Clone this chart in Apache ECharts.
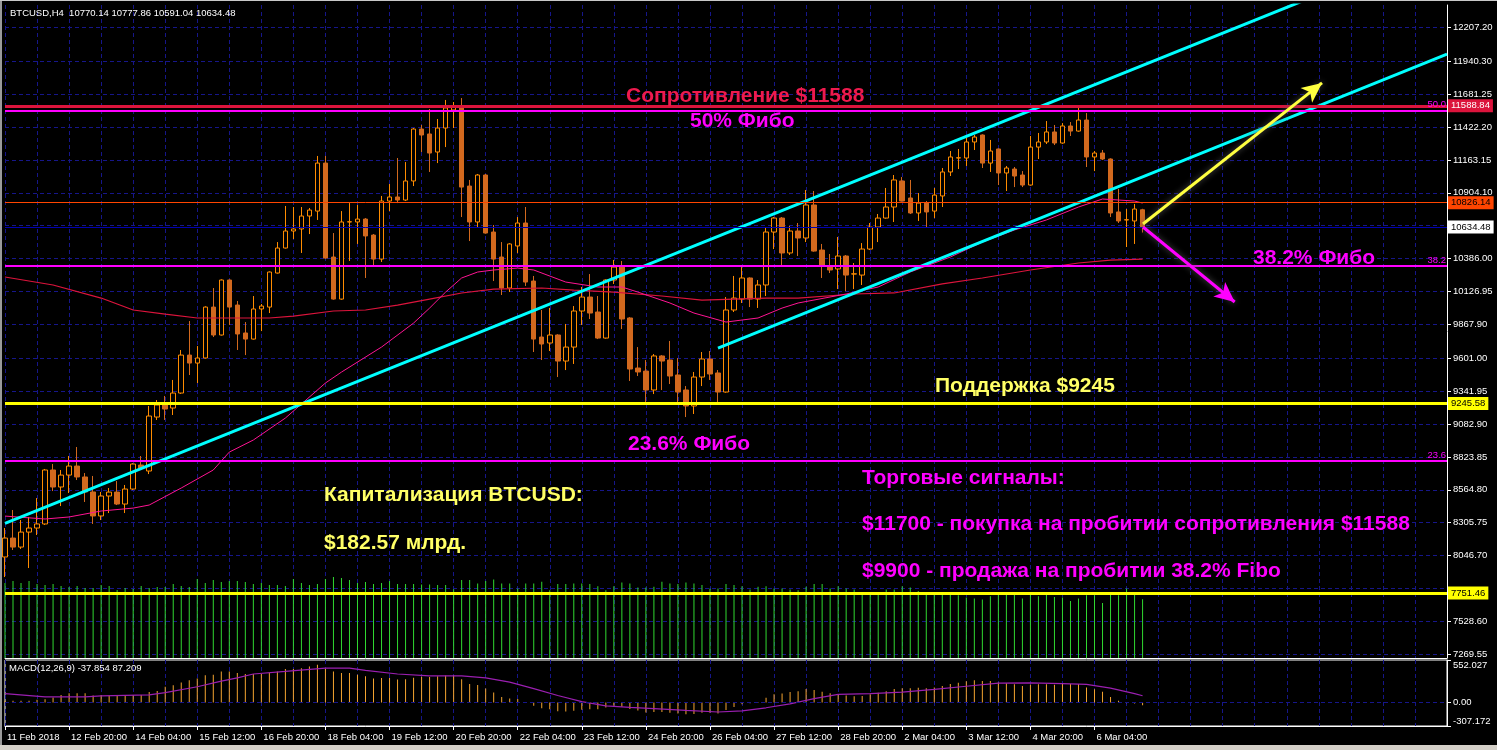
<!DOCTYPE html>
<html><head><meta charset="utf-8">
<script src="https://cdn.jsdelivr.net/npm/echarts@6/dist/echarts.min.js"></script>
<style>html,body{margin:0;padding:0;background:#d4d0c8;}#c{position:absolute;left:0;top:0;width:1497px;height:745px;}</style>
</head><body><div id="c"></div><script>
// ---- data (BTCUSD H4) ----
const symbolName = 'BTCUSD,H4';
const xTickLabels = ['11 Feb 2018','12 Feb 20:00','14 Feb 04:00','15 Feb 12:00','16 Feb 20:00','18 Feb 04:00','19 Feb 12:00','20 Feb 20:00','22 Feb 04:00','23 Feb 12:00','24 Feb 20:00','26 Feb 04:00','27 Feb 12:00','28 Feb 20:00','2 Mar 04:00','3 Mar 12:00','4 Mar 20:00','6 Mar 04:00'];
const priceTicks = [12207.20,11940.30,11681.25,11422.20,11163.15,10904.10,10645.05,10386.00,10126.95,9867.90,9601.00,9341.95,9082.90,8823.85,8564.80,8305.75,8046.70,7787.65,7528.60,7269.55];
const priceLabels = [12207.20,11940.30,11681.25,11422.20,11163.15,10904.10,10386.00,10126.95,9867.90,9601.00,9341.95,9082.90,8823.85,8564.80,8305.75,8046.70,7528.60,7269.55];
const macdTicks = [552.027, 0, -307.172];

const opens = [8036,8185,8114,8232,8264,8296,8721,8587,8681,8752,8666,8548,8359,8516,8547,8453,8571,8760,8713,9138,9233,9209,9327,9626,9563,9603,10004,9784,10217,10020,9800,9752,9989,10004,10272,10469,10603,10619,10721,10760,11138,10398,10067,10674,10674,10697,10571,10382,10839,10871,10847,10997,11406,11367,11225,11414,11556,11579,10957,10674,11044,10595,10398,10154,10485,10666,10209,9768,9721,9784,9579,9689,9973,10083,9965,9760,10217,10319,9918,9524,9500,9351,9619,9587,9469,9351,9225,9453,9595,9485,9335,9981,10067,10233,10067,10178,10595,10705,10430,10603,10548,10808,10453,10319,10304,10406,10264,10256,10461,10634,10705,10792,10997,10863,10745,10823,10760,10879,11068,11178,11178,11304,11359,11138,11249,11060,11091,11044,10965,11264,11304,11383,11296,11430,11390,11477,11186,11217,11170,10753,10690,10682,10770.14];
const highs = [8264,8406,8327,8351,8500,8729,8768,8721,8831,8902,8697,8674,8548,8579,8634,8603,8775,8831,9225,9272,9304,9430,9666,9894,9697,10010,10154,10222,10222,10052,9886,10091,10028,10285,10516,10800,10792,10792,10784,11194,11194,10587,10760,10823,10808,10705,10579,10879,10973,11178,11146,11414,11438,11564,11485,11635,11619,11650,11005,11052,11052,10650,10516,10508,10713,10792,10249,9981,9997,9790,9871,10012,10162,10264,10091,10222,10375,10367,9925,9689,9587,9634,9626,9737,9603,9382,9493,9650,9658,9508,10083,10249,10319,10238,10217,10627,10713,10713,10642,10666,10926,10918,10501,10422,10556,10414,10351,10508,10666,10737,10942,11044,11028,11005,10902,10839,10942,11099,11233,11249,11335,11359,11364,11320,11253,11115,11107,11075,11351,11375,11469,11438,11453,11461,11579,11532,11233,11241,11175,10934,10776,10816,10777.86];
const lows = [7878,8091,8099,7949,8209,8288,8555,8437,8540,8642,8469,8296,8327,8382,8445,8382,8563,8721,8689,9115,9115,9154,9320,9469,9406,9598,9768,9780,9863,9666,9626,9748,9815,9957,10268,10465,10540,10430,10579,10690,10385,10062,10062,10367,10501,10233,10327,10359,10760,10823,10839,10957,11225,11068,11138,11264,11414,10713,10524,10634,10582,10209,10099,10123,10430,10170,9650,9587,9658,9453,9508,9556,9863,9910,9752,9755,10186,9831,9422,9461,9256,9319,9351,9398,9233,9138,9162,9382,9430,9248,9330,9965,10036,10004,9997,10091,10461,10335,10414,10406,10516,10440,10233,10272,10146,10130,10146,10178,10453,10516,10700,10674,10835,10737,10682,10634,10705,10792,11036,11091,11115,11241,11099,11068,10965,10918,10949,10949,10960,11170,11288,11280,11290,11351,11385,11107,11075,11162,10713,10666,10477,10501,10591.04];
const closes = [8185,8114,8232,8264,8296,8721,8587,8681,8752,8666,8548,8359,8516,8547,8453,8571,8768,8736,9146,9233,9201,9327,9626,9563,9603,10004,9784,10217,10004,9792,9752,9989,10012,10280,10469,10603,10619,10721,10768,11138,10390,10067,10674,10676,10697,10564,10382,10839,10871,10847,10997,11406,11359,11217,11414,11572,11579,10949,10674,11044,10587,10382,10154,10501,10666,10201,9752,9713,9784,9579,9689,9973,10083,9957,9760,10217,10319,9910,9516,9493,9351,9619,9579,9461,9335,9225,9453,9595,9477,9335,9981,10075,10233,10067,10178,10595,10705,10430,10603,10548,10808,10445,10327,10296,10406,10256,10266,10461,10634,10705,10792,11005,10839,10745,10823,10753,10886,11068,11186,11180,11304,11343,11138,11233,11060,11099,11036,10965,11264,11304,11383,11296,11430,11390,11477,11186,11217,11170,10745,10682,10692,10776,10634.48];
const volumes = [7500,7700,7500,7700,7400,7300,7400,7200,7100,7200,7000,7000,7300,7200,6800,7000,6900,7200,7000,7100,7100,7400,7200,7100,7900,7500,7800,7600,7700,7700,7600,7400,7500,7300,7300,7200,7900,7500,7300,7400,7900,8100,8000,7800,7500,7600,7400,7500,7700,7400,
 7390,7390,7350,7350,7290,7290,6880,7790,7790,7450,7690,7860,7450,7450,6950,7450,7450,7620,6780,7390,7390,7450,7450,7390,7180,6780,7180,7550,7450,7050,7050,7120,7620,7450,7390,7550,7450,7290,6950,6950,7390,7290,7180,6850,7120,7180,6950,6950,6850,6780,7120,7390,7390,6950,7180,6950,6850,6580,6580,6580,6850,6850,7180,7050,6710,6510,6510,6510,6380,6270,6040,5940,5840,6170,6380,6380,6380,5940,6380,6170,6380,6110,6040,5700,5940,6270,6270,5500,6380,6270,6950,6380,5870];
const macdMain = [20,20,20,20,33,42,64,97,119,119,119,89,97,89,84,84,97,97,135,148,204,224,259,288,310,352,361,403,403,383,370,370,370,390,403,434,434,446,467,489,437,403,383,383,361,339,310,319,319,297,
 300,320,335,330,340,350,355,300,240,225,180,130,70,50,45,5,-45,-75,-90,-115,-120,-110,-95,-90,-90,-65,-45,-55,-85,-105,-130,-125,-125,-135,-145,-155,-150,-135,-135,-145,-100,-60,-25,-10,5,60,105,115,135,145,175,160,140,120,110,90,80,85,105,125,145,175,185,185,190,185,195,215,240,255,275,290,280,280,260,250,235,215,230,235,235,230,240,240,240,195,170,140,70,20,-10,-15,-37.854];
const macdSignal = [[0,115],[5,71],[10,71],[12,85],[18,97],[20,128],[24,204],[27,276],[29,319],[31,370],[35,403],[40,446],[43,446],[45,416],[49,370],[53,345],[57,345],[60,320],[63,265],[66,180],[69,90],[72,10],[75,-45],[78,-65],[81,-80],[85,-105],[89,-125],[92,-110],[95,-70],[98,-20],[101,50],[104,105],[108,115],[112,135],[116,170],[120,210],[124,250],[128,255],[132,245],[135,235],[138,185],[141,115],[142,87.209]];
const maFast = [[0,8358],[5,8335],[8,8351],[12,8398],[16,8421],[18,8445],[22,8579],[26,8721],[28,8862],[31,8957],[35,9130],[40,9406],[42,9492],[47,9689],[51,9878],[53,9996],[55,10122],[57,10233],[59,10280],[61,10296],[64,10311],[66,10296],[70,10201],[74,10162],[77,10162],[79,10122],[83,10036],[86,9957],[90,9886],[94,9918],[97,9996],[99,10036],[105,10107],[109,10162],[113,10280],[118,10398],[122,10516],[126,10611],[130,10690],[134,10792],[137,10855],[141,10839],[142,10823]];
const maSlow = [[0,10241],[6,10178],[12,10075],[16,9981],[20,9949],[24,9918],[28,9918],[33,9918],[36,9933],[41,9973],[45,9981],[49,10020],[53,10067],[57,10115],[61,10146],[67,10154],[71,10138],[76,10122],[82,10091],[87,10059],[95,10075],[99,10075],[106,10107],[111,10115],[117,10186],[122,10233],[128,10296],[134,10351],[138,10374],[142,10382]];
// drawn objects (bar index, price)
const channelUpper = [[0,8300],[162,12415]];
const channelLower = [[89,9681],[180,11996]];
const arrowBuy = [[142.05,10658],[164.4,11769]];
const arrowSell = [[142.05,10634.48],[153.5,10044]];
const levelResistance = 11588.84, levelOrange = 10826.14, levelSupport = 9245.58, levelLow = 7751.46;
const fibo = [{name:'50.0', v:11550}, {name:'38.2', v:10327}, {name:'23.6', v:8792}];

// ---- chart ----
const N = 181;
const cats = Array.from({length:N}, (_, i) => String(i));
const gridCol = '#16168a';
const font = '"Liberation Sans", Arial, sans-serif';
const candles = opens.map((o, i) => [o, closes[i], lows[i], highs[i]]);
const lastPrice = closes[closes.length - 1];

function hLine(v, color, width, labelBg, labelColor, text) {
  return {yAxis: v, lineStyle: {color, width, type: 'solid'},
    label: {show: !!text, position: 'end', formatter: text || '', distance: 1, backgroundColor: labelBg, color: labelColor,
      fontFamily: font, fontSize: 9.5, padding: [2, 3, 1, 3]}};
}
const levelLines = [
  ...fibo.map(f => ({yAxis: f.v, lineStyle: {color: '#ff00ff', width: 2, type: 'solid'},
    label: {show: true, position: 'insideEndTop', formatter: f.name, color: '#ff00ff', fontFamily: font, fontSize: 9.5, distance: 1}})),
  hLine(lastPrice, '#0000b0', 1, '#ffffff', '#000', lastPrice.toFixed(2)),
  hLine(levelOrange, '#ff4500', 1, '#ff4500', '#000', levelOrange.toFixed(2)),
  hLine(levelResistance, '#dc143c', 3, '#dc143c', '#fff', levelResistance.toFixed(2)),
  hLine(levelSupport, '#ffff00', 3, '#ffff00', '#000', levelSupport.toFixed(2)),
  hLine(levelLow, '#ffff00', 3, '#ffff00', '#000', levelLow.toFixed(2))
];

const texts = [
  {t: 'Сопротивление $11588', x: 626, y: 96, c: '#ee1a4e'},
  {t: '50% Фибо', x: 690, y: 121, c: '#ff00ff'},
  {t: '38.2% Фибо', x: 1253, y: 258, c: '#ff00ff'},
  {t: 'Поддержка $9245', x: 935, y: 386, c: '#ffff66'},
  {t: '23.6% Фибо', x: 628, y: 444, c: '#ff00ff'},
  {t: 'Капитализация BTCUSD:', x: 324, y: 495, c: '#ffff66'},
  {t: '$182.57 млрд.', x: 324, y: 543, c: '#ffff66'},
  {t: 'Торговые сигналы:', x: 862, y: 478, c: '#ff00ff'},
  {t: '$11700 - покупка на пробитии сопротивления $11588', x: 862, y: 524, c: '#ff00ff'},
  {t: '$9900 - продажа на пробитии 38.2% Fibo', x: 862, y: 571, c: '#ff00ff'}
];
const graphics = texts.map(o => ({type: 'text', x: o.x, y: o.y, z: 100, silent: true,
  style: {text: o.t, fill: o.c, font: 'bold 21px ' + font, verticalAlign: 'middle'}}));
graphics.push({type: 'text', x: 10, y: 13, z: 100, silent: true,
  style: {text: `${symbolName}  ${opens[142].toFixed(2)} ${highs[142].toFixed(2)} ${lows[142].toFixed(2)} ${closes[142].toFixed(2)}`, fill: '#fff', font: '9.5px ' + font, verticalAlign: 'middle'}});
graphics.push({type: 'text', x: 9, y: 668, z: 100, silent: true,
  style: {text: `MACD(12,26,9) ${macdMain[macdMain.length-1].toFixed(3)} ${macdSignal[macdSignal.length-1][1].toFixed(3)}`, fill: '#fff', font: '9.5px ' + font, verticalAlign: 'middle'}});
graphics.push({type: 'rect', shape: {x: 0, y: 0, width: 2, height: 745}, style: {fill: '#9a9a9a'}, z: 100, silent: true});
graphics.push({type: 'rect', shape: {x: 0, y: 0, width: 1497, height: 1}, style: {fill: '#c8c8c8'}, z: 100, silent: true});

const every4 = (i) => i % 4 === 0;
const chart = echarts.init(document.getElementById('c'), null, {renderer: 'canvas'});
chart.setOption({
  animation: false,
  backgroundColor: '#000',
  graphic: graphics,
  grid: [
    {left: 5, right: 50, top: 5, height: 653},
    {left: 5, right: 50, top: 660, height: 66, show: true, borderColor: '#ffffff', borderWidth: 1},
    {left: 5, right: 50, top: 575, height: 83}
  ],
  xAxis: [
    {type: 'category', gridIndex: 0, data: cats, boundaryGap: false,
      axisLine: {show: true, onZero: false, lineStyle: {color: '#fff'}}, axisTick: {show: false}, axisLabel: {show: false},
      splitLine: {show: true, interval: every4, lineStyle: {color: gridCol, type: [4, 3], width: 1}}},
    {type: 'value', gridIndex: 0, min: 0, max: N - 1, show: false, axisLine: {onZero: false}},
    {type: 'category', gridIndex: 2, data: cats, boundaryGap: false, show: false},
    {type: 'category', gridIndex: 1, data: cats, boundaryGap: false,
      axisLine: {show: true, onZero: false, lineStyle: {color: '#fff'}},
      axisTick: {show: true, interval: (i) => i % 8 === 0 && i <= 136, length: 4, lineStyle: {color: '#fff'}},
      axisLabel: {show: true, interval: (i) => i % 8 === 0 && i <= 136, formatter: (v, i) => xTickLabels[i / 8] || '',
        color: '#fff', fontFamily: font, fontSize: 9.5, align: 'left', margin: 6, padding: [0, 0, 0, 2]},
      splitLine: {show: true, interval: every4, lineStyle: {color: gridCol, type: [4, 3], width: 1}}}
  ],
  yAxis: [
    {type: 'value', gridIndex: 0, position: 'right', min: 7240.4, max: 12382.8, scale: true,
      axisLine: {show: true, onZero: false, lineStyle: {color: '#fff'}},
      axisTick: {show: true, customValues: priceTicks, length: 4, lineStyle: {color: '#fff'}},
      axisLabel: {show: true, customValues: priceLabels, formatter: (v) => v.toFixed(2), color: '#fff', fontFamily: font, fontSize: 9.5, margin: 6},
      splitLine: {show: true, lineStyle: {color: gridCol, type: [4, 3], width: 1}}},
    {type: 'value', gridIndex: 1, position: 'right', min: -307.172, max: 552.027,
      axisLine: {show: true, onZero: false, lineStyle: {color: '#fff'}},
      axisTick: {show: true, customValues: macdTicks, length: 4, lineStyle: {color: '#fff'}},
      axisLabel: {show: true, customValues: macdTicks, formatter: (v) => v === 0 ? '0.00' : v.toFixed(3), color: '#fff', fontFamily: font, fontSize: 9.5, margin: 6,
        verticalAlignMaxLabel: 'bottom', verticalAlignMinLabel: 'top'},
      splitLine: {show: false}},
    {type: 'value', gridIndex: 2, min: 0, max: 8300, show: false, axisLine: {onZero: false}}
  ],
  series: [
    {type: 'bar', name: 'Volumes', xAxisIndex: 2, yAxisIndex: 2, data: volumes, barWidth: 1, silent: true,
      itemStyle: {color: '#30d830'}},
    {type: 'candlestick', name: 'BTCUSD', xAxisIndex: 0, yAxisIndex: 0, data: candles, barWidth: 5, silent: true,
      itemStyle: {color: '#000', color0: '#d2691e', borderColor: '#ff8c00', borderColor0: '#d2691e', borderWidth: 1},
      markLine: {silent: true, symbol: ['none', 'none'], animation: false, data: levelLines}},
    {type: 'line', name: 'MA slow', xAxisIndex: 0, yAxisIndex: 0, data: maSlow, symbol: 'none', silent: true,
      lineStyle: {color: '#dc143c', width: 1.2}},
    {type: 'line', name: 'MA fast', xAxisIndex: 0, yAxisIndex: 0, data: maFast, symbol: 'none', silent: true,
      lineStyle: {color: '#ff1493', width: 1}},
    {type: 'line', name: 'Channel upper', xAxisIndex: 1, yAxisIndex: 0, data: channelUpper, symbol: 'none', silent: true,
      lineStyle: {color: '#00ffff', width: 3}},
    {type: 'line', name: 'Channel lower', xAxisIndex: 1, yAxisIndex: 0, data: channelLower, symbol: 'none', silent: true,
      lineStyle: {color: '#00ffff', width: 3},
      markLine: {silent: true, symbol: ['none', 'arrow'], symbolSize: [14, 20], animation: false, label: {show: false},
        data: [
          [{coord: arrowBuy[0], lineStyle: {color: '#ffff40', width: 3, type: 'solid', shadowColor: 'rgba(90,90,90,0.9)', shadowBlur: 6}}, {coord: arrowBuy[1]}],
          [{coord: arrowSell[0], lineStyle: {color: '#ff00ff', width: 3, type: 'solid', shadowColor: 'rgba(90,90,90,0.9)', shadowBlur: 6}}, {coord: arrowSell[1]}]
        ]}},
    {type: 'bar', name: 'MACD', xAxisIndex: 3, yAxisIndex: 1, data: macdMain, barWidth: 1, silent: true,
      itemStyle: {color: '#f4a430'},
      markLine: {silent: true, symbol: ['none', 'none'], label: {show: false}, data: [{yAxis: 0, lineStyle: {color: gridCol, type: [4, 3], width: 1}}]}},
    {type: 'line', name: 'Signal', xAxisIndex: 3, yAxisIndex: 1, data: macdSignal, symbol: 'none', silent: true,
      lineStyle: {color: '#9a1fb0', width: 1.2}}
  ]
});
</script></body></html>
